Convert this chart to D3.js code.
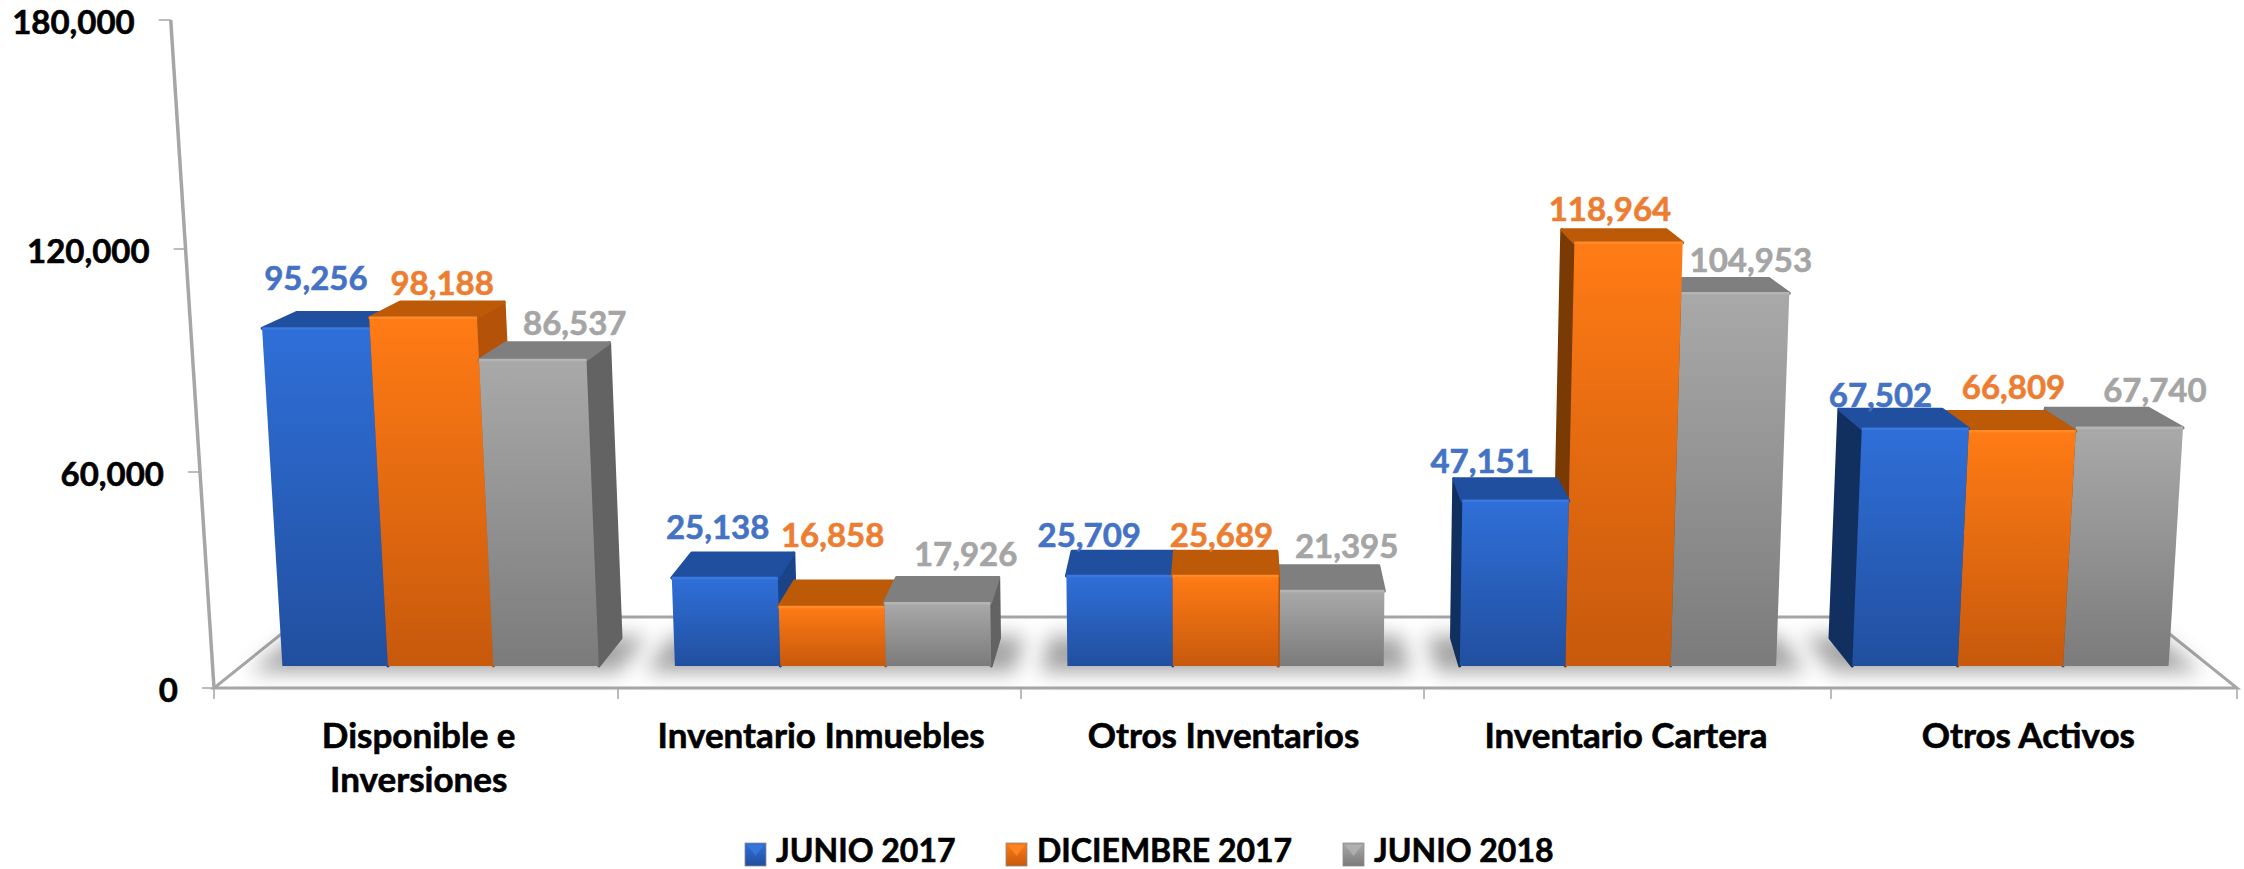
<!DOCTYPE html>
<meta charset="utf-8">
<title>Activos</title>
<style>
html, body { margin: 0; background: #fff; }
text { font-family: Lato, "Open Sans", sans-serif; font-weight: 700; stroke-width: 0.6; }
</style>
<svg width="2244" height="869"></svg>
<script src="https://d3js.org/d3.v7.min.js"></script>
<script>
var categories = ["Disponible e|Inversiones", "Inventario Inmuebles", "Otros Inventarios", "Inventario Cartera", "Otros Activos"];
var seriesNames = ["JUNIO 2017", "DICIEMBRE 2017", "JUNIO 2018"];
var junio2017 = [95256, 25138, 25709, 47151, 67502];
var diciembre2017 = [98188, 16858, 25689, 118964, 66809];
var junio2018 = [86537, 17926, 21395, 104953, 67740];
var yTicks = [0, 60000, 120000, 180000];

// hand placed data labels in the original, offset from the back centre of the bar top
var labelDx = [[-33, -25, -34, -23, -10], [-10, -13, -4, -4, 20], [17, 18, 19, 34, 58]];
var labelDy = [[-34, -26, -16, -17, -14], [-19, -46, -16, -20, -24], [-19, -23, -19, -18, -18]];

var valuesBySeries = [junio2017, diciembre2017, junio2018];

// fake 3d camera, fitted to the picture
var xc = 1226, floorY = 688, vanishDepth = 811, lean = 6.4e-5;
var barFront = 22, barBack = 50, floorBack = 71;
var floorLeft = 214, floorRight = 2237;

var x0 = d3.scaleBand().domain(d3.range(categories.length)).range([217, 2234]).paddingInner(0.194).paddingOuter(0.097);
var x1 = d3.scaleBand().domain(d3.range(seriesNames.length)).range([0, x0.bandwidth()]);
var xEdge = d3.scaleLinear().domain(d3.range(categories.length + 1)).range([floorLeft, 618, 1021, 1424, 1831, floorRight]);
// height above the floor, slightly bigger towards the top because of the perspective
var y = d3.scaleLinear().domain(yTicks).range([0, 216, 439, 668]);

// X = position on the front floor edge, t = depth, h = height at the front plane
function project(X, t, h) {
  var s = 1 - t / vanishDepth;
  var hh = h * s;
  return [xc + (X - xc) * s * (1 + lean * hh), floorY - t - hh];
}

function poly(pts) { return "M" + pts.map(function(p) { return p[0].toFixed(1) + "," + p[1].toFixed(1); }).join("L") + "Z"; }

var svg = d3.select("svg");
var defs = svg.append("defs");

var palette = [
  { top: "#2f6fd8", bottom: "#214f9f", cap: "#1f4f9e", capEdge: "#3a78dd", rightSide: "#1b4488", leftSide: "#12305f", label: "#4472c4" },
  { top: "#ff7b15", bottom: "#c7590c", cap: "#bd5a08", capEdge: "#ff8a2a", rightSide: "#b5520a", leftSide: "#7a3a04", label: "#ed7d31" },
  { top: "#a9a9a9", bottom: "#7b7b7b", cap: "#7f7f7f", capEdge: "#b4b4b4", rightSide: "#636363", leftSide: "#555555", label: "#a5a5a5" }
];

palette.forEach(function(c, i) {
  var g = defs.append("linearGradient").attr("id", "front" + i).attr("x1", 0).attr("y1", 0).attr("x2", 0).attr("y2", 1);
  g.append("stop").attr("offset", 0).attr("stop-color", c.top);
  g.append("stop").attr("offset", 1).attr("stop-color", c.bottom);
});

defs.append("filter").attr("id", "soft").attr("x", "-20%").attr("y", "-60%").attr("width", "140%").attr("height", "220%")
  .append("feGaussianBlur").attr("stdDeviation", 10);

// floor
var floorLine = svg.append("g").attr("stroke", "#a6a6a6").attr("fill", "none");
floorLine.append("path").attr("stroke-width", 3)
  .attr("d", poly([project(floorLeft, 0, 0), project(floorRight, 0, 0), project(floorRight, floorBack, 0), project(floorLeft, floorBack, 0)]));

// shadows
svg.append("g").selectAll("path").data(categories).enter().append("path")
  .attr("fill", "#5a5a5a").attr("opacity", 0.55).attr("filter", "url(#soft)")
  .attr("d", function(d, i) {
    var a = x0(i) - 26, b = x0(i) + x0.bandwidth() + 26;
    return poly([project(a, 16, 0), project(b, 16, 0), project(b, 52, 0), project(a, 52, 0)]);
  });

// y axis
floorLine.append("path").attr("stroke-width", 3.5)
  .attr("d", "M" + project(floorLeft, 0, 0) + "L" + project(floorLeft, 0, y(180000)));

svg.append("g").selectAll("path").data(yTicks).enter().append("path")
  .attr("stroke", "#a6a6a6").attr("stroke-width", 1.5)
  .attr("d", function(d) {
    var p = project(floorLeft, 0, y(d));
    return "M" + (p[0] - 12) + "," + p[1] + "H" + p[0];
  });

svg.append("g").selectAll("text").data(yTicks).enter().append("text")
  .attr("text-anchor", "end").attr("font-size", 33).attr("fill", "#000").attr("stroke", "#000").attr("dy", "0.35em")
  .attr("x", function(d) { return project(floorLeft, 0, y(d))[0] - 36; })
  .attr("y", function(d) { return project(floorLeft, 0, y(d))[1] + 2; })
  .text(d3.format(","));

// x ticks at the band edges
svg.append("g").selectAll("path").data(d3.range(categories.length + 1)).enter().append("path")
  .attr("stroke", "#a6a6a6").attr("stroke-width", 1.5)
  .attr("d", function(i) { return "M" + xEdge(i) + "," + floorY + "V" + (floorY + 11); });

// bars, painted from the outside towards the camera centre
var bars = [];
categories.forEach(function(c, i) {
  valuesBySeries.forEach(function(vals, s) {
    bars.push({ cat: i, ser: s, value: vals[i], a: x0(i) + x1(s), b: x0(i) + x1(s) + x1.bandwidth() });
  });
});
bars.sort(function(p, q) { return Math.abs((q.a + q.b) / 2 - xc) - Math.abs((p.a + p.b) / 2 - xc); });

var bar = svg.append("g").selectAll("g").data(bars).enter().append("g");

bar.each(function(d) {
  var g = d3.select(this), c = palette[d.ser], h = y(d.value);
  var leftOfCentre = (d.a + d.b) / 2 < xc;
  var edge = leftOfCentre ? d.b : d.a;
  var sideFill = leftOfCentre ? c.rightSide : c.leftSide;
  g.append("path")
    .attr("fill", sideFill).attr("stroke", sideFill).attr("stroke-linejoin", "round").attr("stroke-width", 3)
    .attr("d", poly([project(edge, barFront, 0), project(edge, barBack, 0), project(edge, barBack, h), project(edge, barFront, h)]));
  g.append("path")
    .attr("fill", c.cap).attr("stroke", c.cap).attr("stroke-linejoin", "round").attr("stroke-width", 3)
    .attr("d", poly([project(d.a, barFront, h), project(d.b, barFront, h), project(d.b, barBack, h), project(d.a, barBack, h)]));
  g.append("path")
    .attr("fill", "url(#front" + d.ser + ")")
    .attr("d", poly([project(d.a, barFront, 0), project(d.b, barFront, 0), project(d.b, barFront, h), project(d.a, barFront, h)]));
  g.append("path")
    .attr("stroke", c.capEdge).attr("stroke-width", 2.5).attr("fill", "none")
    .attr("d", "M" + project(d.a, barFront, h) + "L" + project(d.b, barFront, h));
});

// value labels
svg.append("g").selectAll("text").data(bars).enter().append("text")
  .attr("text-anchor", "middle").attr("font-size", 33).attr("dy", "0.35em")
  .attr("fill", function(d) { return palette[d.ser].label; })
  .attr("stroke", function(d) { return palette[d.ser].label; })
  .attr("x", function(d) { return project((d.a + d.b) / 2, barBack, y(d.value))[0] + labelDx[d.ser][d.cat]; })
  .attr("y", function(d) { return project((d.a + d.b) / 2, barBack, y(d.value))[1] + labelDy[d.ser][d.cat]; })
  .text(function(d) { return d3.format(",")(d.value); });

// category labels
svg.append("g").selectAll("text").data(categories).enter().append("text")
  .attr("text-anchor", "middle").attr("font-size", 35).attr("fill", "#000").attr("stroke", "#000")
  .attr("transform", function(d, i) { return "translate(" + (x0(i) + x0.bandwidth() / 2 - i) + ",748)"; })
  .each(function(d) {
    d3.select(this).selectAll("tspan").data(d.split("|")).enter().append("tspan")
      .attr("x", 0).attr("dy", function(t, j) { return j ? 44 : 0; }).text(function(t) { return t; });
  });

// legend
var legendX = [745, 1006, 1343];
var legend = svg.append("g").selectAll("g").data(seriesNames).enter().append("g")
  .attr("transform", function(d, i) { return "translate(" + legendX[i] + ",843)"; });
legend.append("rect").attr("width", 21).attr("height", 23)
  .attr("fill", function(d, i) { return "url(#front" + i + ")"; })
  .attr("stroke", "#8c8c8c").attr("stroke-width", 0.8);
legend.append("path").attr("d", "M2,2H19L10.5,13Z")
  .attr("fill", function(d, i) { return palette[i].capEdge; }).attr("opacity", 0.8);
legend.append("text").attr("x", 31).attr("y", 19).attr("font-size", 32).attr("fill", "#000").attr("stroke", "#000").text(function(d) { return d; });
</script>
